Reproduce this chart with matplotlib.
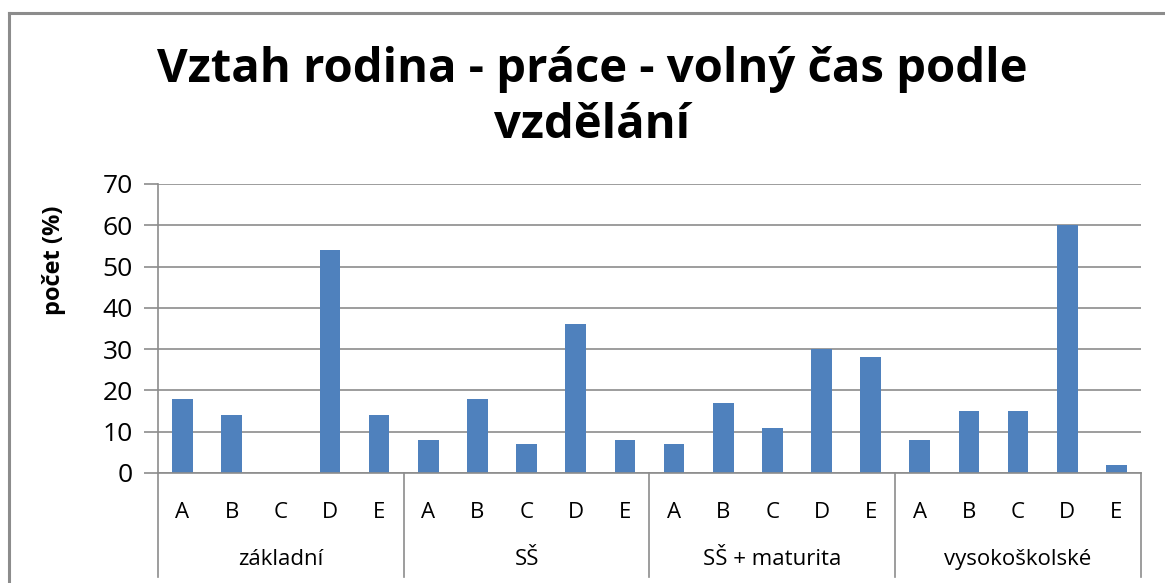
import numpy as np
import matplotlib
matplotlib.use("Agg")
import matplotlib.pyplot as plt
from matplotlib.transforms import blended_transform_factory

plt.rcParams['font.family'] = ['Open Sans', 'DejaVu Sans']

# --- data ---
skupiny = ["základní", "SŠ", "SŠ + maturita", "vysokoškolské"]
odpovedi = ["A", "B", "C", "D", "E"]
zakladni = [18, 14, 0, 54, 14]
ss = [8, 18, 7, 36, 8]
ss_maturita = [7, 17, 11, 30, 28]
vysokoskolske = [8, 15, 15, 60, 2]

hodnoty = zakladni + ss + ss_maturita + vysokoskolske
n_odp = len(odpovedi)
x = np.arange(len(hodnoty))

W, H = 1165, 583
fig = plt.figure(figsize=(W / 100, H / 100), dpi=100)
ax = fig.add_axes([0.1356, 0.1887, 0.8438, 0.4957])

sede = "#8c8c8c"
ax.set_axisbelow(True)
ax.bar(x, hodnoty, width=0.42, color="#4F81BD")

ax.set_xlim(-0.5, len(hodnoty) - 0.5)
ax.set_ylim(0, 70)
ax.set_yticks(np.arange(0, 71, 10))
ax.yaxis.grid(True, color=sede, linewidth=1.2)
ax.tick_params(axis='y', length=10, color=sede, width=1.2, labelsize=19, pad=8)
ax.set_xticks(x)
ax.set_xticklabels(odpovedi * len(skupiny))
ax.tick_params(axis='x', length=0, labelsize=16, pad=21)

for s in ["top", "right"]:
    ax.spines[s].set_visible(False)
for s in ["left", "bottom"]:
    ax.spines[s].set_color(sede)
    ax.spines[s].set_linewidth(1.2)

# oddelovace skupin a popisky skupin
tr = blended_transform_factory(ax.transData, ax.transAxes)
for k in range(len(skupiny) + 1):
    xp = k * n_odp - 0.5
    ax.plot([xp, xp], [0, -0.36], transform=tr, color=sede, linewidth=1.2, clip_on=False)
for k, nazev in enumerate(skupiny):
    ax.text(k * n_odp + (n_odp - 1) / 2, -0.30, nazev, transform=tr,
            ha="center", va="center", fontsize=16)

fig.text(54 / W, 1 - 260 / H, "počet (%)", rotation=90, ha="center", va="center",
         fontsize=17, fontweight="bold")

# nadpis na dva radky
fig.text(592 / W, 1 - 82 / H, "Vztah rodina - práce - volný čas podle",
         ha="center", va="baseline", fontsize=34, fontweight="bold")
fig.text(592 / W, 1 - 138 / H, "vzdělání",
         ha="center", va="baseline", fontsize=34, fontweight="bold")

# ramecek grafu
fig.add_artist(plt.Line2D([9 / W, 9 / W], [0, 1 - 13 / H], color=sede, linewidth=2.2))
fig.add_artist(plt.Line2D([9 / W, 1], [1 - 13 / H, 1 - 13 / H], color=sede, linewidth=2.2))

fig.savefig("out.png", dpi=100)
